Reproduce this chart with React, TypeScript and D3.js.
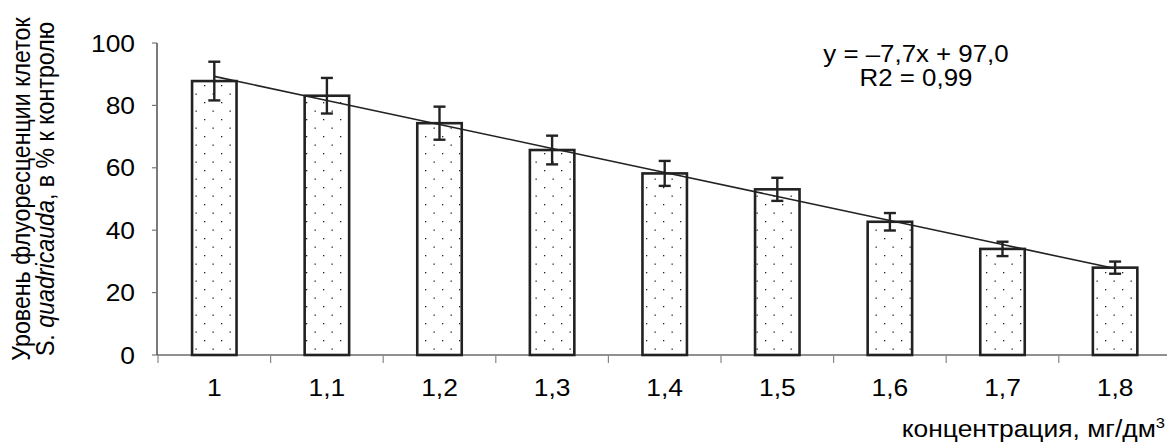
import React from 'react';
import * as d3 from 'd3';

// concentration, mg/dm3
const categories = ['1', '1,1', '1,2', '1,3', '1,4', '1,5', '1,6', '1,7', '1,8'];
// fluorescence level, % of control
const means = [87.8, 83.1, 74.3, 65.7, 58.2, 53.1, 42.7, 34.0, 28.0];
const errors = [6.2, 5.7, 5.3, 4.6, 4.0, 3.7, 2.8, 2.3, 1.95];
const yTicks = [0, 20, 40, 60, 80, 100];
// linear trend y = a*x + b (x = 1..9)
const trendSlope = -7.7;
const trendIntercept = 97.0;

const W = 1167;
const H = 445;
const left = 157;
const step = 112.6;
const top = 43;
const bottom = 355;
const SX = 1.1; // source text is slightly wider than normal Arial

const font = '"Liberation Sans", Arial, sans-serif';

const App: React.FC = () => {
    const x = d3.scaleBand<string>()
        .domain(categories)
        .range([left, left + step * categories.length])
        .padding(0);
    const y = d3.scaleLinear().domain([0, 100]).range([bottom, top]);

    const barW = x.bandwidth() * 0.395;
    const cx = (c: string) => (x(c) as number) + x.bandwidth() / 2 + 1;

    const trend = d3.line<number>()
        .x((_, i) => cx(categories[i]))
        .y(d => y(d));
    const trendVals = categories.map((_, i) => trendSlope * (i + 1) + trendIntercept);

    const st = (tx: number, ty: number) => `translate(${tx},${ty}) scale(${SX},1)`;

    return (
        <svg width={W} height={H} style={{ position: 'absolute', left: 0, top: 0, background: '#fff' }}
            fontFamily={font}>
            <defs>
                <pattern id="dots" patternUnits="userSpaceOnUse" width={17} height={17}>
                    <rect x={0} y={0} width={1.3} height={1.3} fill="#222" />
                    <rect x={8.5} y={8.5} width={1.3} height={1.3} fill="#222" />
                </pattern>
            </defs>

            {/* bars */}
            {categories.map((c, i) => (
                <rect key={c} x={cx(c) - barW / 2} y={y(means[i])} width={barW}
                    height={y(0) - y(means[i])} fill="url(#dots)" stroke="#222" strokeWidth={2.6} />
            ))}

            {/* trend line */}
            <path d={trend(trendVals) || ''} fill="none" stroke="#222" strokeWidth={1.6} />

            {/* error bars */}
            {categories.map((c, i) => {
                const xc = cx(c);
                const y1 = y(means[i] + errors[i]);
                const y2 = y(means[i] - errors[i]);
                return (
                    <g key={c} stroke="#222" strokeWidth={2.4}>
                        <line x1={xc} x2={xc} y1={y1} y2={y2} />
                        <line x1={xc - 6} x2={xc + 6} y1={y1} y2={y1} />
                        <line x1={xc - 6} x2={xc + 6} y1={y2} y2={y2} />
                    </g>
                );
            })}

            {/* y axis */}
            <line x1={left} x2={left} y1={top} y2={bottom} stroke="#222" strokeWidth={1.2} />
            {yTicks.map(t => (
                <g key={t}>
                    <line x1={left - 5} x2={left} y1={y(t)} y2={y(t)} stroke="#777" strokeWidth={1.2} />
                    <text transform={st(135, y(t) + 8.6)} textAnchor="end" fontSize={24} fill="#000">{t}</text>
                </g>
            ))}

            {/* x axis */}
            <line x1={left} x2={W} y1={bottom} y2={bottom} stroke="#222" strokeWidth={1.2} />
            {d3.range(categories.length + 1).map(k => (
                <line key={k} x1={left + 1 + k * step} x2={left + 1 + k * step} y1={bottom} y2={bottom + 8}
                    stroke="#888" strokeWidth={1.2} />
            ))}
            {categories.map(c => (
                <text key={c} transform={st(cx(c), 395.5)} textAnchor="middle" fontSize={24} fill="#000">{c}</text>
            ))}

            {/* equation */}
            <text transform={st(916, 61.5)} textAnchor="middle" fontSize={23.5} fill="#000">y = –7,7x + 97,0</text>
            <text transform={st(916, 85.5)} textAnchor="middle" fontSize={23.5} fill="#000">R2 = 0,99</text>

            {/* axis titles */}
            <text transform={st(1165, 436.5)} textAnchor="end" fontSize={24} fill="#000">
                концентрация, мг/дм<tspan fontSize={15} dy={-9}>3</tspan>
            </text>
            <g transform={`translate(0,189) scale(${SX},1) rotate(-90)`} fontSize={23.2} fill="#000">
                <text x={0} y={27} textAnchor="middle">Уровень флуоресценции клеток</text>
                <text x={0} y={49} textAnchor="middle">
                    S. <tspan fontStyle="italic">quadricauda</tspan>, в % к контролю
                </text>
            </g>
        </svg>
    );
};

export default App;
